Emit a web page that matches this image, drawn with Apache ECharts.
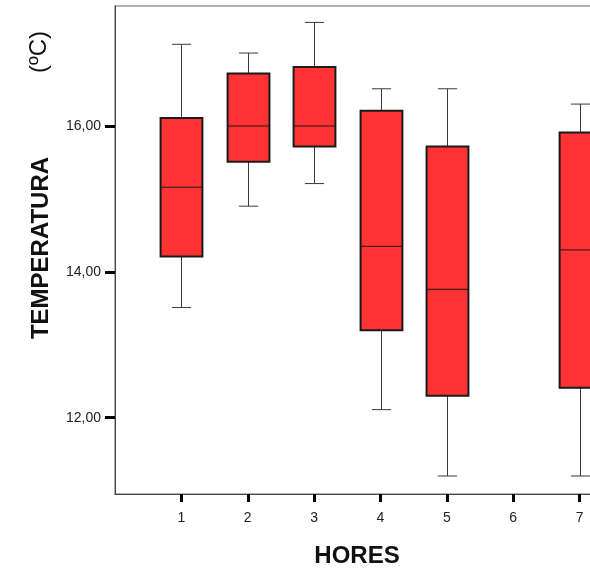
<!DOCTYPE html>
<html>
<head>
<meta charset="utf-8">
<script src="https://cdn.jsdelivr.net/npm/echarts@6/dist/echarts.min.js"></script>
<style>html,body{margin:0;padding:0;background:#fff;}#c{width:590px;height:571px;}</style>
</head>
<body>
<div id="c"></div>
<script>
var hours   = [1, 2, 3, 4, 5, 7];
var mins    = [13.51, 14.90, 15.21, 12.11, 11.20, 11.20];
var q1s     = [14.21, 15.51, 15.72, 13.20, 12.30, 12.41];
var medians = [15.16, 16.00, 16.00, 14.35, 13.76, 14.30];
var q3s     = [16.11, 16.72, 16.81, 16.21, 15.72, 15.91];
var maxs    = [17.12, 17.00, 17.42, 16.51, 16.51, 16.30];
var xTicks  = [1, 2, 3, 4, 5, 6, 7];
var yTicks  = [12, 14, 16];
var xTitle = 'HORES', yTitle = 'TEMPERATURA', yUnit = '(ºC)';

var data = hours.map(function (h, i) {
  return [h, mins[i], q1s[i], medians[i], q3s[i], maxs[i]];
});

var chart = echarts.init(document.getElementById('c'), null, {renderer: 'canvas'});
var FONT = '"Liberation Sans", Arial, sans-serif';

function renderBox(params, api) {
  var x = api.value(0);
  var pMin = api.coord([x, api.value(1)]);
  var pQ1 = api.coord([x, api.value(2)]);
  var pMed = api.coord([x, api.value(3)]);
  var pQ3 = api.coord([x, api.value(4)]);
  var pMax = api.coord([x, api.value(5)]);
  var unit = api.size([1, 0])[0];
  var bw = unit * 0.63, cw = unit * 0.29;
  var cx = Math.round(pMed[0]) + 0.5;
  var wStyle = {stroke: '#3a3a3a', lineWidth: 1};
  return {
    type: 'group',
    children: [
      {type: 'line', shape: {x1: cx, y1: pMax[1], x2: cx, y2: pQ3[1]}, style: wStyle},
      {type: 'line', shape: {x1: cx, y1: pMin[1], x2: cx, y2: pQ1[1]}, style: wStyle},
      {type: 'line', shape: {x1: cx - cw / 2, y1: pMax[1], x2: cx + cw / 2, y2: pMax[1]}, style: wStyle},
      {type: 'line', shape: {x1: cx - cw / 2, y1: pMin[1], x2: cx + cw / 2, y2: pMin[1]}, style: wStyle},
      {type: 'rect', shape: {x: cx - bw / 2, y: pQ3[1], width: bw, height: pQ1[1] - pQ3[1]},
        style: {fill: '#ff3333', stroke: '#1a1a1a', lineWidth: 2}},
      {type: 'line', shape: {x1: cx - bw / 2, y1: pMed[1], x2: cx + bw / 2, y2: pMed[1]},
        style: {stroke: '#1a1a1a', lineWidth: 1}}
    ]
  };
}

chart.setOption({
  animation: false,
  backgroundColor: '#fff',
  grid: {left: 115, top: 6, width: 531, height: 488, outerBoundsMode: 'none', containLabel: false,
    show: true, borderColor: '#999', borderWidth: 1.5, backgroundColor: 'transparent'},
  xAxis: {
    type: 'value', min: 0, max: 8, interval: 1,
    splitLine: {show: false},
    axisLine: {show: true, lineStyle: {color: '#444', width: 1}},
    axisTick: {show: true, customValues: xTicks, length: 8, lineStyle: {color: '#000', width: 3}},
    axisLabel: {customValues: xTicks, margin: 17, color: '#222', fontSize: 14, fontFamily: FONT}
  },
  yAxis: {
    type: 'value', min: 10.953, max: 17.645,
    splitLine: {show: false},
    axisLine: {show: true, lineStyle: {color: '#444', width: 1}},
    axisTick: {show: true, customValues: yTicks, length: 10, lineStyle: {color: '#000', width: 3}},
    axisLabel: {customValues: yTicks, margin: 14, color: '#222', fontSize: 14, fontFamily: FONT,
      formatter: function (v) { return v.toFixed(2).replace('.', ','); }}
  },
  graphic: [
    {type: 'text', x: 357, y: 556, style: {text: xTitle, font: 'bold 24px ' + FONT, fill: '#111', align: 'center', verticalAlign: 'middle'}},
    {type: 'text', x: 41, y: 248, rotation: Math.PI / 2, style: {text: yTitle, font: 'bold 24px ' + FONT, fill: '#111', align: 'center', verticalAlign: 'middle'}},
    {type: 'text', x: 39, y: 52, rotation: Math.PI / 2, style: {text: yUnit, font: '24px ' + FONT, fill: '#111', align: 'center', verticalAlign: 'middle'}}
  ],
  series: [{
    type: 'custom',
    renderItem: renderBox,
    encode: {x: 0, y: [1, 2, 3, 4, 5]},
    data: data,
    clip: false
  }]
});
</script>
</body>
</html>
